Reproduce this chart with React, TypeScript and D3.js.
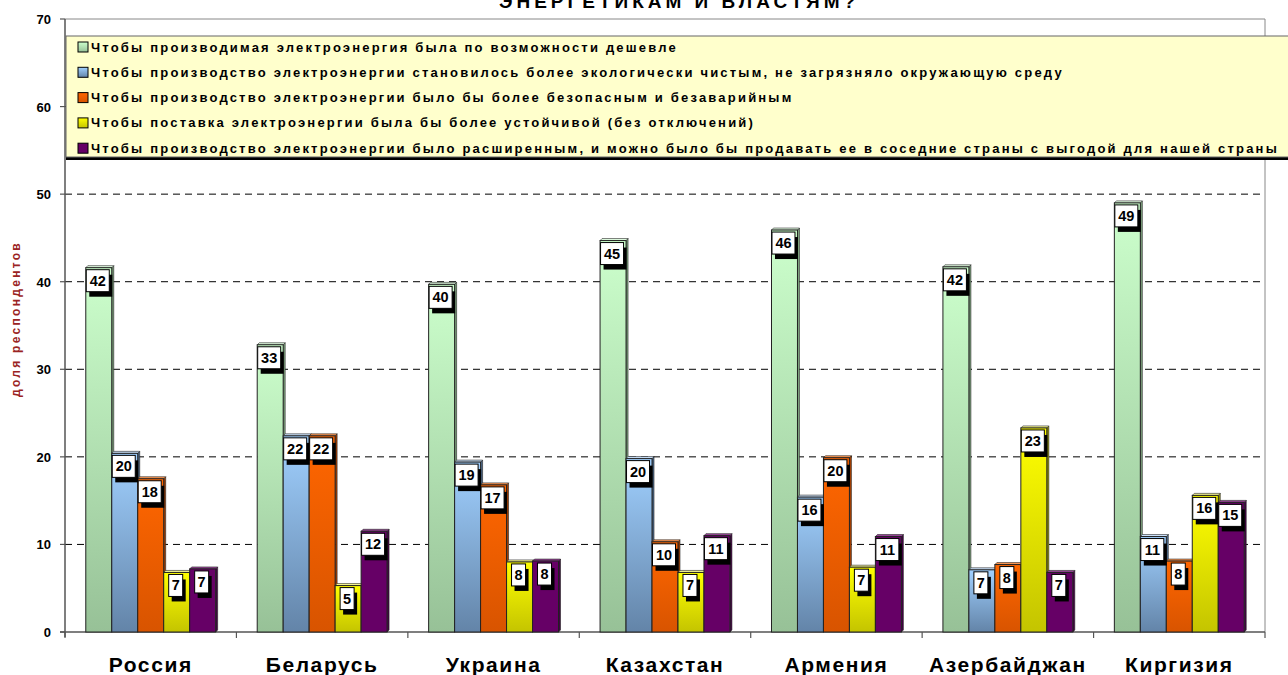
import React from "react";
import * as d3 from "d3";

const categories = ["Россия", "Беларусь", "Украина", "Казахстан", "Армения", "Азербайджан", "Киргизия"];
const seriesNames = [
  "Чтобы производимая электроэнергия была по возможности дешевле",
  "Чтобы производство электроэнергии становилось более экологически чистым, не загрязняло окружающую среду",
  "Чтобы производство электроэнергии было бы более безопасным и безаварийным",
  "Чтобы поставка электроэнергии была бы более устойчивой (без отключений)",
  "Чтобы производство электроэнергии было расширенным, и можно было бы продавать ее в соседние страны с выгодой для нашей страны",
];
const cheaper = [41.6, 32.8, 39.7, 44.7, 45.9, 41.7, 49.0];
const ecological = [20.4, 22.4, 19.4, 19.8, 15.4, 7.1, 10.9];
const safer = [17.5, 22.4, 16.8, 10.3, 19.9, 7.7, 8.1];
const stable = [6.8, 5.3, 8.0, 6.8, 7.4, 23.3, 15.6];
const expanded = [7.2, 11.5, 8.1, 11.0, 10.9, 6.8, 14.8];
const labels = [
  [42, 33, 40, 45, 46, 42, 49],
  [20, 22, 19, 20, 16, 7, 11],
  [18, 22, 17, 10, 20, 8, 8],
  [7, 5, 8, 7, 7, 23, 16],
  [7, 12, 8, 11, 11, 7, 15],
];
const seriesValues = [cheaper, ecological, safer, stable, expanded];
const yTicks = [0, 10, 20, 30, 40, 50, 60, 70];
const titleText = "ЭНЕРГЕТИКАМ И ВЛАСТЯМ?";
const yAxisTitle = "доля респондентов";

const colors = [
  { top: "#ccffcc", bottom: "#97c197", side: "#7fa57f", cap: "#e4ffe4" },
  { top: "#a0d0ff", bottom: "#6384a8", side: "#4f6c8c", cap: "#cfe6ff" },
  { top: "#ff6600", bottom: "#d85400", side: "#a84000", cap: "#ff9a55" },
  { top: "#ffff00", bottom: "#c4c400", side: "#9a9a00", cap: "#ffff99" },
  { top: "#660066", bottom: "#660066", side: "#440044", cap: "#994499" },
];

const FONT = "Arial, 'Liberation Sans', sans-serif";

export default function App() {
  const left = 65, right = 1265, top = 19, bottom = 632;
  const x0 = d3.scaleBand<string>().domain(categories).range([left, right]).padding(0);
  const x1 = d3.scaleBand<number>().domain([0, 1, 2, 3, 4]).range([0, x0.bandwidth()]).paddingInner(0).paddingOuter(0.8);
  const y = d3.scaleLinear().domain([0, 70]).range([bottom, top]);
  const d = 2;
  const bw = x1.bandwidth();

  return (
    <svg width={1288} height={675} style={{ position: "absolute", left: 0, top: 0, background: "#fff" }} fontFamily={FONT}>
      <defs>
        {colors.map((c, i) => (
          <linearGradient key={i} id={`g${i}`} x1="0" y1="0" x2="0" y2="1">
            <stop offset="0" stopColor={c.top} />
            <stop offset="1" stopColor={c.bottom} />
          </linearGradient>
        ))}
      </defs>
      <rect x={0} y={0} width={1288} height={675} fill="#fff" />
      {/* title (partially cut, as in the reference) */}
      <text x={679} y={8} textAnchor="middle" fontWeight="bold" fontSize={19} letterSpacing={4}>{titleText}</text>

      {/* plot border top/right */}
      <line x1={left} x2={right} y1={top} y2={top} stroke="#888" strokeWidth={1} />
      <line x1={right} x2={right} y1={top} y2={bottom} stroke="#888" strokeWidth={1} />

      {/* gridlines */}
      {yTicks.filter(t => t > 0 && t < 70).map(t => (
        <line key={t} x1={left} x2={right} y1={y(t)} y2={y(t)} stroke="#000" strokeDasharray="7,5" strokeWidth={1} />
      ))}

      {/* y axis */}
      <line x1={left} x2={left} y1={top} y2={bottom + 5} stroke="#555" strokeWidth={1.5} />
      {yTicks.map(t => (
        <g key={t}>
          <line x1={left - 5} x2={left} y1={y(t)} y2={y(t)} stroke="#555" strokeWidth={1.2} />
          <text x={51} y={y(t) + 5} textAnchor="end" fontWeight="bold" fontSize={13}>{t}</text>
        </g>
      ))}
      <text transform={`translate(20,319) rotate(-90)`} textAnchor="middle" fontWeight="bold" fontSize={12} letterSpacing={2.3} fill="#9a2323">{yAxisTitle}</text>

      {/* x axis */}
      <line x1={left - 5} x2={right} y1={bottom} y2={bottom} stroke="#555" strokeWidth={1.5} />
      {categories.map((c) => (
        <line key={c} x1={x0(c)!} x2={x0(c)!} y1={bottom} y2={bottom + 6} stroke="#555" strokeWidth={1.2} />
      ))}
      <line x1={right} x2={right} y1={bottom} y2={bottom + 6} stroke="#555" strokeWidth={1.2} />
      {categories.map(c => (
        <text key={c} x={x0(c)! + x0.bandwidth() / 2} y={672} textAnchor="middle" fontWeight="bold" fontSize={21} letterSpacing={1.6}>{c}</text>
      ))}

      {/* bars */}
      {categories.map((c, ci) => (
        <g key={c}>
          {seriesValues.map((vals, si) => {
            const bx = x0(c)! + x1(si)!;
            const by = y(vals[ci]);
            const col = colors[si];
            return (
              <g key={si}>
                <polygon points={`${bx + bw},${by} ${bx + bw + d},${by - d} ${bx + bw + d},${bottom - d} ${bx + bw},${bottom}`} fill={col.side} stroke="#222" strokeWidth={0.6} />
                <polygon points={`${bx},${by} ${bx + d},${by - d} ${bx + bw + d},${by - d} ${bx + bw},${by}`} fill={col.cap} stroke="#222" strokeWidth={0.6} />
                <rect x={bx} y={by} width={bw} height={bottom - by} fill={`url(#g${si})`} stroke="#222" strokeWidth={1} />
              </g>
            );
          })}
        </g>
      ))}

      {/* labels */}
      {categories.map((c, ci) => (
        <g key={c}>
          {seriesValues.map((vals, si) => {
            const bx = x0(c)! + x1(si)!;
            const by = y(vals[ci]);
            const txt = String(labels[si][ci]);
            const w = txt.length > 1 ? 23 : 14;
            const lx = bx + bw / 2 - 1 - w / 2;
            const ly = by + 2;
            return (
              <g key={si}>
                <rect x={lx + 3} y={ly + 5} width={w} height={22} fill="#000" />
                <rect x={lx} y={ly} width={w} height={22} fill="#fff" stroke="#000" strokeWidth={1} />
                <text x={lx + w / 2} y={ly + 16} textAnchor="middle" fontWeight="bold" fontSize={14.5}>{txt}</text>
              </g>
            );
          })}
        </g>
      ))}

      {/* legend */}
      <rect x={66} y={38} width={1230} height={122} fill="#000" />
      <rect x={66} y={36} width={1230} height={121} fill="#ffffcc" stroke="#666" strokeWidth={1} />
      {seriesNames.map((n, i) => (
        <g key={i} transform={`translate(0,${47 + i * 25.3})`}>
          <rect x={78} y={-5} width={10} height={10} fill={`url(#g${i})`} stroke="#000" strokeWidth={1} />
          <text x={91} y={4.5} fontWeight="bold" fontSize={13} letterSpacing={2.2}>{n}</text>
        </g>
      ))}
    </svg>
  );
}
